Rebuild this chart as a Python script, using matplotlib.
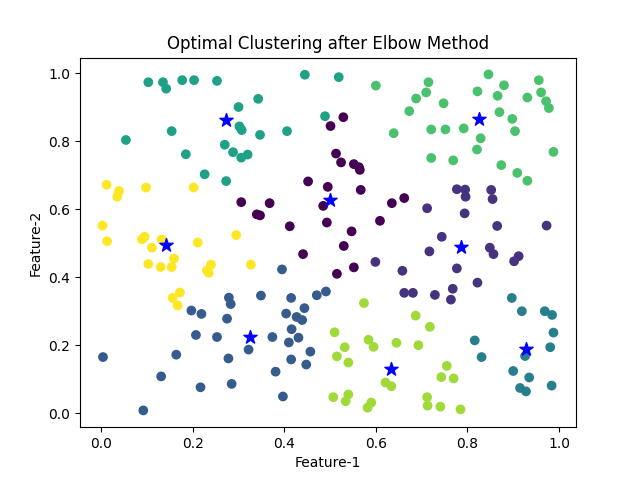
import matplotlib
matplotlib.use('Agg')
import matplotlib.pyplot as plt

# points, grouped by cluster label 0..7
c0 = [(0.529, 0.871), (0.501, 0.845), (0.513, 0.764), (0.524, 0.738), (0.552, 0.733),
      (0.563, 0.724), (0.565, 0.716), (0.452, 0.682), (0.495, 0.666), (0.567, 0.657),
      (0.485, 0.610), (0.306, 0.621), (0.368, 0.618), (0.340, 0.585), (0.347, 0.582),
      (0.412, 0.550), (0.493, 0.561), (0.547, 0.535), (0.609, 0.566), (0.635, 0.618),
      (0.662, 0.633), (0.530, 0.492), (0.441, 0.468), (0.552, 0.429), (0.515, 0.410)]
c1 = [(0.777, 0.659), (0.795, 0.658), (0.796, 0.637), (0.852, 0.657), (0.855, 0.630),
      (0.712, 0.603), (0.794, 0.588), (0.865, 0.551), (0.973, 0.552), (0.744, 0.519),
      (0.717, 0.476), (0.849, 0.487), (0.857, 0.468), (0.912, 0.462), (0.902, 0.447),
      (0.777, 0.426), (0.822, 0.384), (0.662, 0.354), (0.681, 0.354), (0.729, 0.348),
      (0.768, 0.366), (0.764, 0.334), (0.599, 0.445), (0.658, 0.419)]
c2 = [(0.279, 0.340), (0.283, 0.321), (0.197, 0.302), (0.219, 0.292), (0.275, 0.278),
      (0.207, 0.230), (0.253, 0.224), (0.322, 0.187), (0.004, 0.165), (0.164, 0.172),
      (0.278, 0.161), (0.131, 0.108), (0.217, 0.076), (0.285, 0.086), (0.092, 0.008),
      (0.395, 0.423), (0.349, 0.346), (0.415, 0.339), (0.471, 0.347), (0.491, 0.358),
      (0.404, 0.293), (0.444, 0.309), (0.427, 0.283), (0.439, 0.274), (0.416, 0.247),
      (0.374, 0.224), (0.431, 0.222), (0.410, 0.208), (0.457, 0.181), (0.415, 0.158),
      (0.448, 0.143), (0.381, 0.122), (0.397, 0.049)]
c3 = [(0.897, 0.339), (0.919, 0.300), (0.969, 0.300), (0.985, 0.289), (0.988, 0.237),
      (0.816, 0.214), (0.831, 0.165), (0.981, 0.194), (0.926, 0.168), (0.900, 0.124),
      (0.935, 0.105), (0.915, 0.074), (0.928, 0.064), (0.984, 0.081)]
c4 = [(0.103, 0.974), (0.135, 0.974), (0.142, 0.955), (0.177, 0.980), (0.203, 0.980),
      (0.253, 0.978), (0.343, 0.925), (0.300, 0.901), (0.302, 0.844), (0.307, 0.833),
      (0.154, 0.830), (0.054, 0.804), (0.270, 0.790), (0.185, 0.762), (0.288, 0.768),
      (0.306, 0.752), (0.320, 0.761), (0.226, 0.703), (0.273, 0.683), (0.445, 0.996),
      (0.519, 0.989), (0.489, 0.874), (0.347, 0.819), (0.406, 0.830)]
c5 = [(0.600, 0.964), (0.688, 0.926), (0.673, 0.889), (0.639, 0.824), (0.846, 0.997),
      (0.715, 0.974), (0.710, 0.944), (0.748, 0.912), (0.822, 0.947), (0.880, 0.965),
      (0.866, 0.934), (0.956, 0.980), (0.961, 0.944), (0.931, 0.929), (0.972, 0.918),
      (0.978, 0.898), (0.870, 0.886), (0.898, 0.866), (0.904, 0.830), (0.721, 0.835),
      (0.752, 0.835), (0.792, 0.838), (0.829, 0.809), (0.821, 0.776), (0.721, 0.751),
      (0.769, 0.744), (0.988, 0.769), (0.874, 0.730), (0.909, 0.707), (0.931, 0.684)]
c6 = [(0.574, 0.324), (0.687, 0.287), (0.510, 0.238), (0.584, 0.216), (0.595, 0.195),
      (0.532, 0.194), (0.645, 0.207), (0.693, 0.200), (0.515, 0.167), (0.540, 0.149),
      (0.621, 0.090), (0.634, 0.079), (0.507, 0.047), (0.540, 0.055), (0.534, 0.035),
      (0.590, 0.031), (0.582, 0.016), (0.718, 0.254), (0.755, 0.139), (0.743, 0.106),
      (0.770, 0.102), (0.712, 0.047), (0.713, 0.022), (0.741, 0.019), (0.785, 0.011)]
c7 = [(0.012, 0.672), (0.039, 0.654), (0.035, 0.637), (0.098, 0.664), (0.202, 0.664),
      (0.003, 0.552), (0.013, 0.506), (0.095, 0.519), (0.089, 0.512), (0.132, 0.511),
      (0.111, 0.487), (0.211, 0.502), (0.295, 0.524), (0.159, 0.455), (0.103, 0.439),
      (0.130, 0.430), (0.154, 0.430), (0.240, 0.437), (0.231, 0.420), (0.235, 0.413),
      (0.327, 0.437), (0.172, 0.355), (0.156, 0.339), (0.167, 0.317)]

centers_x = [0.500, 0.787, 0.325, 0.928, 0.273, 0.826, 0.634, 0.142]
centers_y = [0.626, 0.490, 0.225, 0.190, 0.862, 0.865, 0.129, 0.494]

clusters = [c0, c1, c2, c3, c4, c5, c6, c7]
x, y, labels = [], [], []
for label, pts in enumerate(clusters):
    for px, py in pts:
        x.append(px)
        y.append(py)
        labels.append(label)

fig = plt.figure(figsize=(6.4, 4.8), dpi=100)
plt.scatter(x, y, c=labels, cmap='viridis')
plt.scatter(centers_x, centers_y, marker='*', s=100, c='blue')
plt.title('Optimal Clustering after Elbow Method')
plt.xlabel('Feature-1')
plt.ylabel('Feature-2')
plt.savefig('out.png')
